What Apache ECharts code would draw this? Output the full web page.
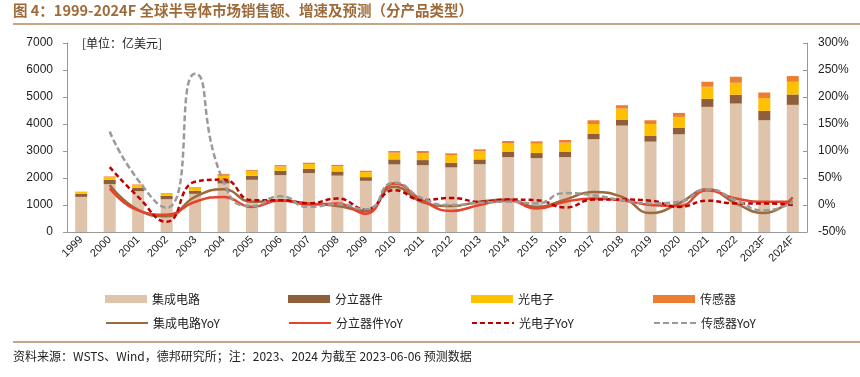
<!DOCTYPE html>
<html>
<head>
<meta charset="utf-8">
<script src="https://cdn.jsdelivr.net/npm/echarts@6/dist/echarts.min.js"></script>
<style>
  html, body { margin: 0; padding: 0; background: #fff; }
  #main { width: 860px; height: 377px; }
</style>
</head>
<body>
<div id="main"></div>
<script>
// categories
var years = ['1999','2000','2001','2002','2003','2004','2005','2006','2007','2008','2009','2010','2011',
  '2012','2013','2014','2015','2016','2017','2018','2019','2020','2021','2022','2023F','2024F'];

// sales, 亿美元 (stacked)
var ic = [1301,1772,1512,1214,1413,1797,1933,2107,2181,2088,1896,2503,2478,2392,2515,2776,2738,2776,3440,3941,3346,3618,4634,4758,4139,4709];
var discrete = [112,161,124,124,111,124,149,161,161,155,136,186,186,173,174,186,186,186,190,223,210,236,298,323,347,384];
var opto = [74,99,99,75,112,161,161,161,173,192,186,248,260,285,297,334,347,346,371,408,446,409,446,446,471,471];
var sensor = [7,25,25,24,24,62,49,49,50,50,50,62,75,62,75,74,87,100,137,124,137,148,186,223,210,211];

// growth, %
var icYoy = [null,37,-9,-21,15,29,6,8,3,-2,-11,34,5,-2,6,10,-3.5,10,24,15,-15,3,29,3,-15,14];
var discreteYoy = [null,31,-10,-18,6,15,-3.5,9,1,3,-16,40,8,-11,0,9,-6.5,6,12,9,0,-2,27.5,12,6,6];
var optoYoy = [null,70,15,-31,43,47,9,9,3,12,-8,27.5,9,13,6,10,9,-4.6,10,10,8,-3.5,8,3,3,0];
var sensorYoy = [null,136,46,-5,243,43,-2,16,-3.5,1.5,-8,41,12,0,4,6,3,22,18,9,3,6,29,9,-10,6];

var barNames = ['集成电路', '分立器件', '光电子', '传感器'];
var lineNames = ['集成电路YoY', '分立器件YoY', '光电子YoY', '传感器YoY'];

var chart = echarts.init(document.getElementById('main'));
var cjk = '"Noto Sans CJK SC", "Liberation Sans", sans-serif';
var latin = '"Liberation Sans", Arial, sans-serif';

function barSeries(name, data, color) {
  return {
    name: name, type: 'bar', stack: 'sales', data: data,
    barWidth: 12, itemStyle: { color: color }
  };
}
function lineSeries(name, data, color, dash, smooth) {
  return {
    name: name, type: 'line', yAxisIndex: 1, data: data,
    smooth: smooth, symbol: 'none',
    lineStyle: { color: color, width: 2.5, type: dash || 'solid' },
    itemStyle: { color: color }
  };
}

// one legend per item so the columns line up like the original
var legendCols = [100, 283, 466, 648];
var legends = [];
barNames.forEach(function (n, i) {
  legends.push({ left: legendCols[i], top: 288, itemWidth: 42, itemHeight: 8, icon: 'rect',
    textStyle: { fontFamily: cjk, fontSize: 12, color: '#222' }, data: [n] });
});
lineNames.forEach(function (n, i) {
  legends.push({ left: legendCols[i], top: 312, itemWidth: 42, itemHeight: 8,
    itemStyle: { opacity: 0 },
    textStyle: { fontFamily: cjk, fontSize: 12, color: '#222' }, data: [n] });
});

var option = {
  animation: false,
  backgroundColor: '#fff',
  grid: { left: 67, right: 53, top: 43, bottom: 145 },
  graphic: [
    { type: 'text', left: 13, top: 3,
      style: { text: '图 4：1999-2024F 全球半导体市场销售额、增速及预测（分产品类型）',
        font: 'bold 14.5px ' + cjk, fill: '#9E6B3A' } },
    { type: 'line', shape: { x1: 13, y1: 24, x2: 860, y2: 24 },
      style: { stroke: '#B08A5F', lineWidth: 1.5 } },
    { type: 'text', left: 82, top: 37,
      style: { text: '[单位：亿美元]', font: '12px ' + cjk, fill: '#222' } },
    { type: 'line', shape: { x1: 13, y1: 342, x2: 860, y2: 342 },
      style: { stroke: '#B08A5F', lineWidth: 1.5 } },
    { type: 'text', left: 13, top: 350,
      style: { text: '资料来源：WSTS、Wind，德邦研究所；注：2023、2024 为截至 2023-06-06 预测数据',
        font: '12px ' + cjk, fill: '#222' } }
  ],
  legend: legends,
  xAxis: {
    type: 'category', data: years, boundaryGap: true,
    axisLine: { lineStyle: { color: '#999', width: 1 } },
    axisTick: { inside: true, length: 4, lineStyle: { color: '#999' } },
    axisLabel: { rotate: 45, fontFamily: latin, fontSize: 11, color: '#222', margin: 6, interval: 0 }
  },
  yAxis: [
    { type: 'value', min: 0, max: 7000, interval: 1000,
      splitLine: { show: false },
      axisLine: { show: true, lineStyle: { color: '#999' } },
      axisTick: { show: true, inside: false, length: 4, lineStyle: { color: '#999' } },
      axisLabel: { fontFamily: latin, fontSize: 12, color: '#222', margin: 14,
        formatter: function (v) { return String(v); } } },
    { type: 'value', min: -50, max: 300, interval: 50,
      splitLine: { show: false },
      axisLine: { show: true, lineStyle: { color: '#999' } },
      axisTick: { show: true, inside: true, length: 4, lineStyle: { color: '#999' } },
      axisLabel: { fontFamily: latin, fontSize: 12, color: '#222', margin: 11, formatter: '{value}%' } }
  ],
  series: [
    barSeries(barNames[0], ic, '#DFC3AA'),
    barSeries(barNames[1], discrete, '#8E5F3A'),
    barSeries(barNames[2], opto, '#FFC000'),
    barSeries(barNames[3], sensor, '#ED7D31'),
    lineSeries(lineNames[0], icYoy, '#9C6A3C', null, 0.5),
    lineSeries(lineNames[1], discreteYoy, '#E8412C', null, 0.5),
    lineSeries(lineNames[2], optoYoy, '#C00000', [5, 3], 0.5),
    lineSeries(lineNames[3], sensorYoy, '#9A9A9A', [6, 3], 0.6)
  ]
};

chart.setOption(option);
</script>
</body>
</html>
